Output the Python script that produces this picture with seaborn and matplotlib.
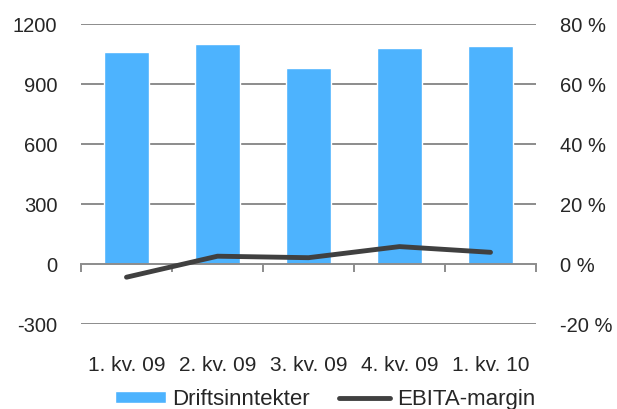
"""Driftsinntekter and EBITA-margin per quarter."""

import matplotlib
matplotlib.use('Agg')
import matplotlib.pyplot as plt
import matplotlib.ticker as mticker
import seaborn as sns

quarters = ['1. kv. 09', '2. kv. 09', '3. kv. 09', '4. kv. 09', '1. kv. 10']
revenue = [1060, 1100, 980, 1080, 1090]
ebita_margin = [-4.4, 2.6, 2.1, 5.8, 3.9]

BAR_COLOR = '#4db3fe'
LINE_COLOR = '#404040'
GRID_COLOR = '#8c8c8c'

sns.set_style('white')
plt.rcParams['font.family'] = ['Liberation Sans', 'DejaVu Sans']
plt.rcParams['font.size'] = 14.5
plt.rcParams['axes.unicode_minus'] = False

fig = plt.figure(figsize=(6.17, 4.10), dpi=100)
ax = fig.add_axes([81 / 617, 1 - 325 / 410, 455 / 617, 300 / 410])

sns.barplot(x=quarters, y=revenue, color=BAR_COLOR, width=0.49,
            saturation=1, ax=ax, label='Driftsinntekter', zorder=2)
ax.set_ylim(-300, 1200)
ax.set_yticks(range(-300, 1201, 300))
ax.set_xlim(-0.5, len(quarters) - 0.5)
ax.grid(False)
for y in [-300, 300, 600, 900, 1200]:
    ax.axhline(y, color=GRID_COLOR, lw=1.4, zorder=1)
for s in ax.spines.values():
    s.set_visible(False)
ax.tick_params(axis='x', length=0, pad=22, labelsize=15)
ax.tick_params(axis='y', length=0, pad=17)

# axis line at zero with tick marks at category boundaries
zero = ax.secondary_xaxis(300 / 1500)
zero.set_xticks([i - 0.5 for i in range(len(quarters) + 1)])
zero.set_xticklabels([])
zero.tick_params(axis='x', length=6, width=1.4, color=GRID_COLOR, direction='out')
zero.spines['bottom'].set_color(GRID_COLOR)
zero.spines['bottom'].set_linewidth(1.4)
zero.set_zorder(3)

ax2 = ax.twinx()
sns.lineplot(x=quarters, y=ebita_margin, color=LINE_COLOR, lw=3.5,
             solid_capstyle='round', ax=ax2, label='EBITA-margin', legend=False)
ax2.set_ylim(-20, 80)
ax2.set_yticks(range(-20, 81, 20))
ax2.yaxis.set_major_formatter(mticker.FuncFormatter(lambda v, _: f'{v:.0f} %'))
for s in ax2.spines.values():
    s.set_visible(False)
ax2.tick_params(axis='y', length=0, pad=17)
ax2.set_ylabel('')
ax.set_ylabel('')

h1, l1 = ax.get_legend_handles_labels()
h2, l2 = ax2.get_legend_handles_labels()
if ax.get_legend() is not None:
    ax.get_legend().remove()
fig.legend(h1 + h2, l1 + l2, loc='center', bbox_to_anchor=(325 / 617, 1 - 400 / 410),
           ncol=2, frameon=False, fontsize=16, handlelength=2.3, handleheight=0.45,
           handletextpad=0.3, columnspacing=1.3, borderaxespad=0)

fig.savefig('out.png', dpi=100)
